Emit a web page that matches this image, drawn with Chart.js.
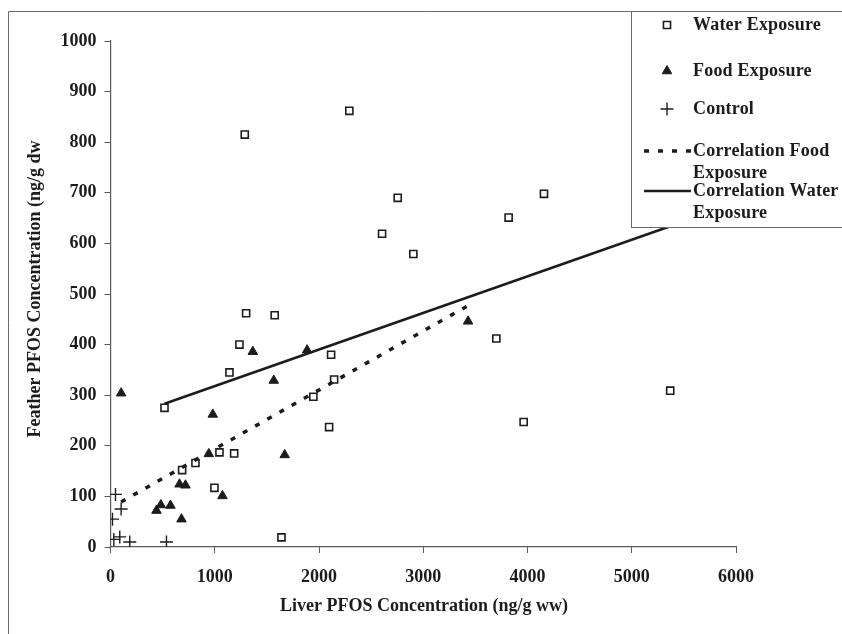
<!DOCTYPE html>
<html>
<head>
<meta charset="utf-8">
<script src="https://cdn.jsdelivr.net/npm/chart.js@4/dist/chart.umd.min.js"></script>
<style>
  html, body { margin: 0; padding: 0; background: #ffffff; }
  #wrap { width: 842px; height: 634px; }
</style>
</head>
<body>
<div id="wrap"><canvas id="c" width="842" height="634"></canvas></div>
<script>
// Liver vs feather PFOS concentrations for each exposure group
const waterX = [1301, 1575, 1237, 2116, 1141, 2145, 518, 1946, 2097, 1045, 1186, 815, 687, 997, 1640, 2291, 2755, 4158, 2605, 3819, 2905, 3701, 3963, 1288, 5369];
const waterY = [462, 458, 400, 380, 345, 331, 275, 297, 237, 187, 185, 166, 152, 117, 19, 862, 690, 698, 619, 651, 579, 412, 247, 815, 309];

const foodX = [102, 1365, 1886, 1566, 981, 943, 1671, 662, 719, 1074, 483, 575, 441, 681, 3430];
const foodY = [304, 386, 389, 329, 262, 184, 182, 124, 122, 101, 83, 82, 72, 55, 446];

const controlX = [48, 102, 19, 32, 89, 185, 537];
const controlY = [104, 75, 55, 15, 20, 10, 10];

// Fitted correlation lines (end points)
const foodFitX = [102, 3430];
const foodFitY = [89, 477];
const waterFitX = [518, 5369];
const waterFitY = [283, 634];

// Axis ticks and text
const xTicks = [0, 1000, 2000, 3000, 4000, 5000, 6000];
const yTicks = [0, 100, 200, 300, 400, 500, 600, 700, 800, 900, 1000];
const xTitle = 'Liver PFOS Concentration (ng/g ww)';
const yTitle = 'Feather PFOS Concentration (ng/g dw';
const seriesLabels = ['Water Exposure', 'Food Exposure', 'Control', 'Correlation Food Exposure', 'Correlation Water Exposure'];
const legendLines = [['Water Exposure'], ['Food Exposure'], ['Control'], ['Correlation Food', 'Exposure'], ['Correlation Water', 'Exposure']];

const pts = (xs, ys) => xs.map((x, i) => ({ x: x, y: ys[i] }));

const INK = '#1c1c1c';
const AXIS = '#5a5a5a';
const FONT = '"Liberation Serif", "Times New Roman", serif';

// Axis titles, outer frame and the legend panel
const decorations = {
  id: 'decorations',
  afterDraw(chart) {
    const ctx = chart.ctx;
    ctx.save();
    // outer frame (left and top edges)
    ctx.strokeStyle = '#6a6a6a';
    ctx.lineWidth = 1;
    ctx.beginPath();
    ctx.moveTo(8.5, 634);
    ctx.lineTo(8.5, 11.5);
    ctx.lineTo(842, 11.5);
    ctx.stroke();

    // axis titles
    ctx.fillStyle = INK;
    ctx.font = 'bold 18px ' + FONT;
    ctx.textAlign = 'center';
    ctx.textBaseline = 'middle';
    ctx.fillText(xTitle, 424, 606);
    ctx.save();
    ctx.translate(35, 289);
    ctx.rotate(-Math.PI / 2);
    ctx.fillText(yTitle, 0, 0);
    ctx.restore();

    // legend panel
    const bx = 631.5, by = 11.5, bw = 220, bh = 216;
    ctx.fillStyle = '#ffffff';
    ctx.fillRect(bx, by, bw, bh);
    ctx.strokeStyle = '#6a6a6a';
    ctx.lineWidth = 1;
    ctx.strokeRect(bx, by, bw, bh);

    const rowsY = [25, 71, 109, 151, 191];
    const markX = 667;
    const textX = 693;
    ctx.font = 'bold 18px ' + FONT;
    if ('letterSpacing' in ctx) ctx.letterSpacing = '0.2px';
    ctx.textAlign = 'left';
    ctx.textBaseline = 'middle';
    chart.data.datasets.forEach((ds, i) => {
      const y = rowsY[i];
      ctx.strokeStyle = INK;
      ctx.lineWidth = ds.borderWidth;
      if (i < 3) {
        ctx.fillStyle = ds.backgroundColor;
        Chart.helpers.drawPoint(ctx, {
          pointStyle: ds.pointStyle,
          radius: ds.pointRadius,
          borderWidth: ds.borderWidth,
          rotation: 0
        }, markX, y);
      } else {
        ctx.beginPath();
        ctx.setLineDash(ds.borderDash || []);
        ctx.moveTo(644, y);
        ctx.lineTo(691, y);
        ctx.stroke();
        ctx.setLineDash([]);
      }
      ctx.fillStyle = INK;
      legendLines[i].forEach((line, k) => {
        ctx.fillText(line, textX, y + k * 22);
      });
    });
    ctx.restore();
  }
};

const tickFont = { family: FONT, size: 18, weight: 'bold' };
const plainNumber = (v) => String(v);

new Chart(document.getElementById('c'), {
  type: 'scatter',
  data: {
    datasets: [
      {
        label: seriesLabels[0],
        data: pts(waterX, waterY),
        pointStyle: 'rect',
        pointRadius: 5,
        borderWidth: 1.6,
        borderColor: INK,
        backgroundColor: 'rgba(255,255,255,0)'
      },
      {
        label: seriesLabels[1],
        data: pts(foodX, foodY),
        pointStyle: 'triangle',
        pointRadius: 5.5,
        borderWidth: 1,
        borderColor: INK,
        backgroundColor: INK
      },
      {
        label: seriesLabels[2],
        data: pts(controlX, controlY),
        pointStyle: 'cross',
        pointRadius: 6.5,
        borderWidth: 1.4,
        borderColor: INK,
        backgroundColor: INK
      },
      {
        label: seriesLabels[3],
        type: 'line',
        data: pts(foodFitX, foodFitY),
        showLine: true,
        pointRadius: 0,
        borderWidth: 3.5,
        borderDash: [5, 9],
        borderColor: INK,
        fill: false
      },
      {
        label: seriesLabels[4],
        type: 'line',
        data: pts(waterFitX, waterFitY),
        showLine: true,
        pointRadius: 0,
        borderWidth: 2.5,
        borderColor: INK,
        fill: false
      }
    ]
  },
  options: {
    responsive: false,
    animation: false,
    devicePixelRatio: 1,
    layout: { padding: { left: 0, right: 106, top: 41, bottom: 0 } },
    plugins: {
      legend: { display: false },
      tooltip: { enabled: false },
      title: { display: false }
    },
    scales: {
      x: {
        type: 'linear',
        min: 0,
        max: 6000,
        afterBuildTicks(scale) { scale.ticks = xTicks.map(v => ({ value: v })); },
        afterFit(scale) { scale.height = 87; },
        grid: { drawOnChartArea: false, drawTicks: true, tickLength: 6, color: AXIS, lineWidth: 1 },
        border: { display: true, color: AXIS, width: 1.2 },
        ticks: { font: tickFont, color: INK, padding: 14, maxRotation: 0, callback: plainNumber }
      },
      y: {
        type: 'linear',
        min: 0,
        max: 1000,
        afterBuildTicks(scale) { scale.ticks = yTicks.map(v => ({ value: v })); },
        afterFit(scale) { scale.width = 110.5; },
        grid: { drawOnChartArea: false, drawTicks: true, tickLength: 6, color: AXIS, lineWidth: 1 },
        border: { display: true, color: AXIS, width: 1.2 },
        ticks: { font: tickFont, color: INK, padding: 8, callback: plainNumber }
      }
    }
  },
  plugins: [decorations]
});
</script>
</body>
</html>
